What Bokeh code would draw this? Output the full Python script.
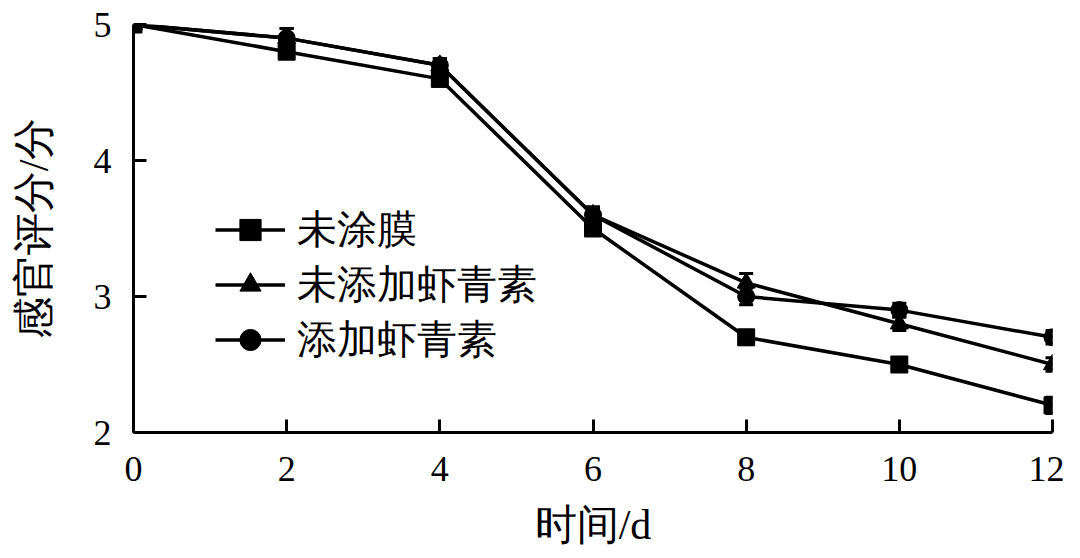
from bokeh.plotting import figure
from bokeh.models import Range1d, FixedTicker, Legend, LegendItem, Whisker, ColumnDataSource, TeeHead
from bokeh.embed import file_html
from bokeh.resources import INLINE

days = [0, 2, 4, 6, 8, 10, 12]
uncoated = [5.0, 4.8, 4.6, 3.5, 2.7, 2.5, 2.2]
uncoated_err = [0.03, 0.05, 0.05, 0.05, 0.05, 0.05, 0.06]
no_astax = [5.0, 4.9, 4.7, 3.6, 3.1, 2.8, 2.5]
no_astax_err = [0.03, 0.07, 0.05, 0.05, 0.07, 0.05, 0.05]
astax = [5.0, 4.9, 4.7, 3.6, 3.0, 2.9, 2.7]
astax_err = [0.03, 0.07, 0.05, 0.06, 0.06, 0.05, 0.05]
names = ["未涂膜", "未添加虾青素", "添加虾青素"]
x_ticks = [0, 2, 4, 6, 8, 10, 12]
y_ticks = [2, 3, 4, 5]

FONT = "Liberation Serif"

p = figure(width=1064, height=550, output_backend="svg", toolbar_location=None,
           x_range=Range1d(0, 12), y_range=Range1d(2, 5),
           min_border_left=133, min_border_right=12, min_border_top=24, min_border_bottom=118)
p.outline_line_color = None
p.grid.visible = False
p.background_fill_color = "white"

for ax in (p.xaxis[0], p.yaxis[0]):
    ax.axis_line_width = 3
    ax.axis_line_color = "black"
    ax.major_tick_in = 13
    ax.major_tick_out = 0
    ax.major_tick_line_width = 3
    ax.minor_tick_line_color = None
    ax.major_label_text_font = FONT
    ax.major_label_text_font_size = "36px"
    ax.major_label_text_color = "black"
    ax.axis_label_text_font = FONT
    ax.axis_label_text_font_size = "42px"
    ax.axis_label_text_font_style = "normal"
    ax.axis_label_text_color = "black"

p.xaxis.ticker = FixedTicker(ticks=x_ticks)
p.yaxis.ticker = FixedTicker(ticks=y_ticks)
p.xaxis.major_label_standoff = 24
p.yaxis.major_label_standoff = 22
p.xaxis.axis_label = "时间/d"
p.yaxis.axis_label = "感官评分/分"
p.xaxis.axis_label_standoff = 18
p.yaxis.axis_label_standoff = 34

series = [(uncoated, uncoated_err, "square"), (no_astax, no_astax_err, "triangle"), (astax, astax_err, "circle")]
items = []
for (vals, errs, mk), name in zip(series, names):
    src = ColumnDataSource(dict(x=days, y=vals,
                                lo=[v - e for v, e in zip(vals, errs)],
                                hi=[v + e for v, e in zip(vals, errs)]))
    w = Whisker(base="x", upper="hi", lower="lo", source=src, line_width=3, line_color="black",
                upper_head=TeeHead(size=14, line_width=3, line_color="black"),
                lower_head=TeeHead(size=14, line_width=3, line_color="black"))
    p.add_layout(w)
    r1 = p.line("x", "y", source=src, line_width=3.5, line_color="black")
    sz = 17 if mk != "triangle" else 18
    r2 = p.scatter("x", "y", source=src, marker=mk, size=sz, fill_color="black", line_color="black")
    items.append(LegendItem(label=name, renderers=[r1, r2]))

legend = Legend(items=items, location=(82, 65), background_fill_alpha=0, border_line_color=None,
                padding=0, margin=0, spacing=0, label_height=53, glyph_height=53, glyph_width=70,
                label_standoff=12, label_text_font=FONT, label_text_font_size="40px",
                label_text_color="black")
p.add_layout(legend, "center")

open("out.html", "w").write(file_html(p, INLINE))
